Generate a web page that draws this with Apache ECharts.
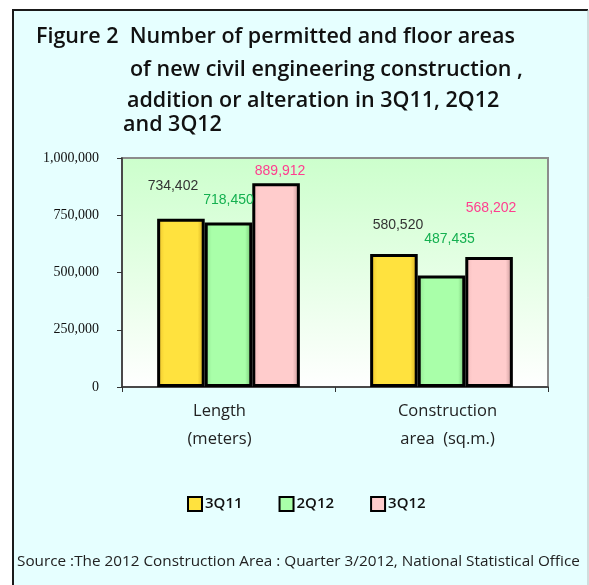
<!DOCTYPE html>
<html>
<head>
<meta charset="utf-8">
<script src="https://cdn.jsdelivr.net/npm/echarts@6/dist/echarts.min.js"></script>
<style>
html,body{margin:0;padding:0;background:#fff;}
#c{width:589px;height:585px;}
</style>
</head>
<body>
<div id="c"></div>
<script>
const categories = ['Length\n(meters)', 'Construction\narea  (sq.m.)'];
const seriesNames = ['3Q11', '2Q12', '3Q12'];
const values3Q11 = [734402, 580520];
const values2Q12 = [718450, 487435];
const values3Q12 = [889912, 568202];
const yTicks = [0, 250000, 500000, 750000, 1000000];

const titleLines = [
  'Figure 2  Number of permitted and floor areas',
  'of new civil engineering construction ,',
  'addition or alteration in 3Q11, 2Q12',
  'and 3Q12'
];
const sourceText = 'Source :The 2012 Construction Area : Quarter 3/2012, National Statistical Office';

// styling config (not data)
const styles = [
  {edge1:'#EBC22A', mid:'#FFE23E', edge2:'#CFA61E', label:'#333333', offsets:[[-8,-21],[4,-17]]},
  {edge1:'#8FE58F', mid:'#A9FFA9', edge2:'#6CBD6C', label:'#14B050', offsets:[[0,-10],[8,-24]]},
  {edge1:'#F2BCBC', mid:'#FFCCCC', edge2:'#BF9090', label:'#FF3D8F', offsets:[[4,0],[2,-37]]}
];
const allValues = [values3Q11, values2Q12, values3Q12];

function fmt(v){ return v.toString().replace(/\B(?=(\d{3})+(?!\d))/g, ','); }

const chart = echarts.init(document.getElementById('c'), null, {renderer:'canvas'});

const series = seriesNames.map((name, i) => {
  const s = styles[i];
  return {
    name: name,
    type: 'bar',
    barGap: '0%',
    barCategoryGap: '33%',
    itemStyle: {
      color: new echarts.graphic.LinearGradient(0,0,1,0,[
        {offset:0, color:s.edge1},
        {offset:0.15, color:s.mid},
        {offset:0.85, color:s.mid},
        {offset:1, color:s.edge2}
      ]),
      borderColor: '#000',
      borderWidth: 3
    },
    label: {
      show: true,
      position: 'top',
      fontFamily: 'Liberation Sans',
      fontSize: 14,
      color: s.label,
      formatter: p => fmt(p.value)
    },
    data: allValues[i].map((v, j) => ({value: v, label: {offset: s.offsets[j]}}))
  };
});

const titleGraphics = [
  {x:36, y:37}, {x:130, y:70}, {x:127, y:101}, {x:123, y:125}
].map((p, i) => ({
  type:'text', x:p.x, y:p.y,
  style:{text:titleLines[i], font:'600 21.5px "Open Sans"', fill:'#111', verticalAlign:'middle'}
}));

const catRich = {
  c0: {fontFamily:'Open Sans', fontSize:16.5, color:'#222', lineHeight:28, padding:[0,18,0,0]},
  c1: {fontFamily:'Open Sans', fontSize:16.5, color:'#222', lineHeight:28, padding:[0,0,0,12]}
};

const option = {
  animation: false,
  backgroundColor: '#ffffff',
  graphic: [
    {type:'rect', shape:{x:13, y:10, width:576, height:580}, style:{fill:'#E6FFFF'}, z:-10},
    {type:'polyline', shape:{points:[[13,585],[13,10],[588,10]]}, style:{stroke:'#1a1a1a', lineWidth:2, fill:null}, z:-9},
    {type:'line', shape:{x1:588, y1:10, x2:588, y2:585}, style:{stroke:'#bbbbbb', lineWidth:1}, z:-9},
    ...titleGraphics,
    {type:'text', x:17, y:562, style:{text:sourceText, font:'15.3px "Open Sans"', fill:'#222', verticalAlign:'middle'}}
  ],
  grid: {
    left: 122, top: 158, right: 41, bottom: 198,
    show: true,
    borderColor: '#8c8c8c',
    borderWidth: 2,
    backgroundColor: new echarts.graphic.LinearGradient(0,0,0,1,[
      {offset:0, color:'#CCFFCC'},
      {offset:1, color:'#FFFFFF'}
    ])
  },
  legend: {
    data: seriesNames,
    left: 187, top: 496, padding: 0,
    itemWidth: 14, itemHeight: 14, itemGap: 36,
    icon: 'rect',
    itemStyle: {borderColor:'#000', borderWidth:2},
    textStyle: {fontFamily:'Open Sans', fontWeight:600, fontSize:15, color:'#111', padding:[0,0,0,-2]}
  },
  xAxis: {
    type: 'category',
    data: categories,
    axisLine: {lineStyle:{color:'#333', width:1.5}},
    axisTick: {show:true, length:5, lineStyle:{color:'#333'}},
    axisLabel: {
      fontFamily:'Open Sans', fontSize:16.5, color:'#222', lineHeight:28, margin:10,
      formatter: (value, index) => value.split('\n').map(l => '{c' + index + '|' + l + '}').join('\n'),
      rich: catRich
    }
  },
  yAxis: {
    type: 'value',
    min: yTicks[0], max: yTicks[yTicks.length-1], interval: yTicks[1]-yTicks[0],
    splitLine: {show:false},
    axisLine: {show:true, lineStyle:{color:'#333', width:1.5}},
    axisTick: {show:true, length:5, lineStyle:{color:'#333'}},
    axisLabel: {fontFamily:'Liberation Serif', fontSize:14, color:'#111', margin:23, formatter: v => fmt(v)}
  },
  series: series
};
chart.setOption(option);
</script>
</body>
</html>
